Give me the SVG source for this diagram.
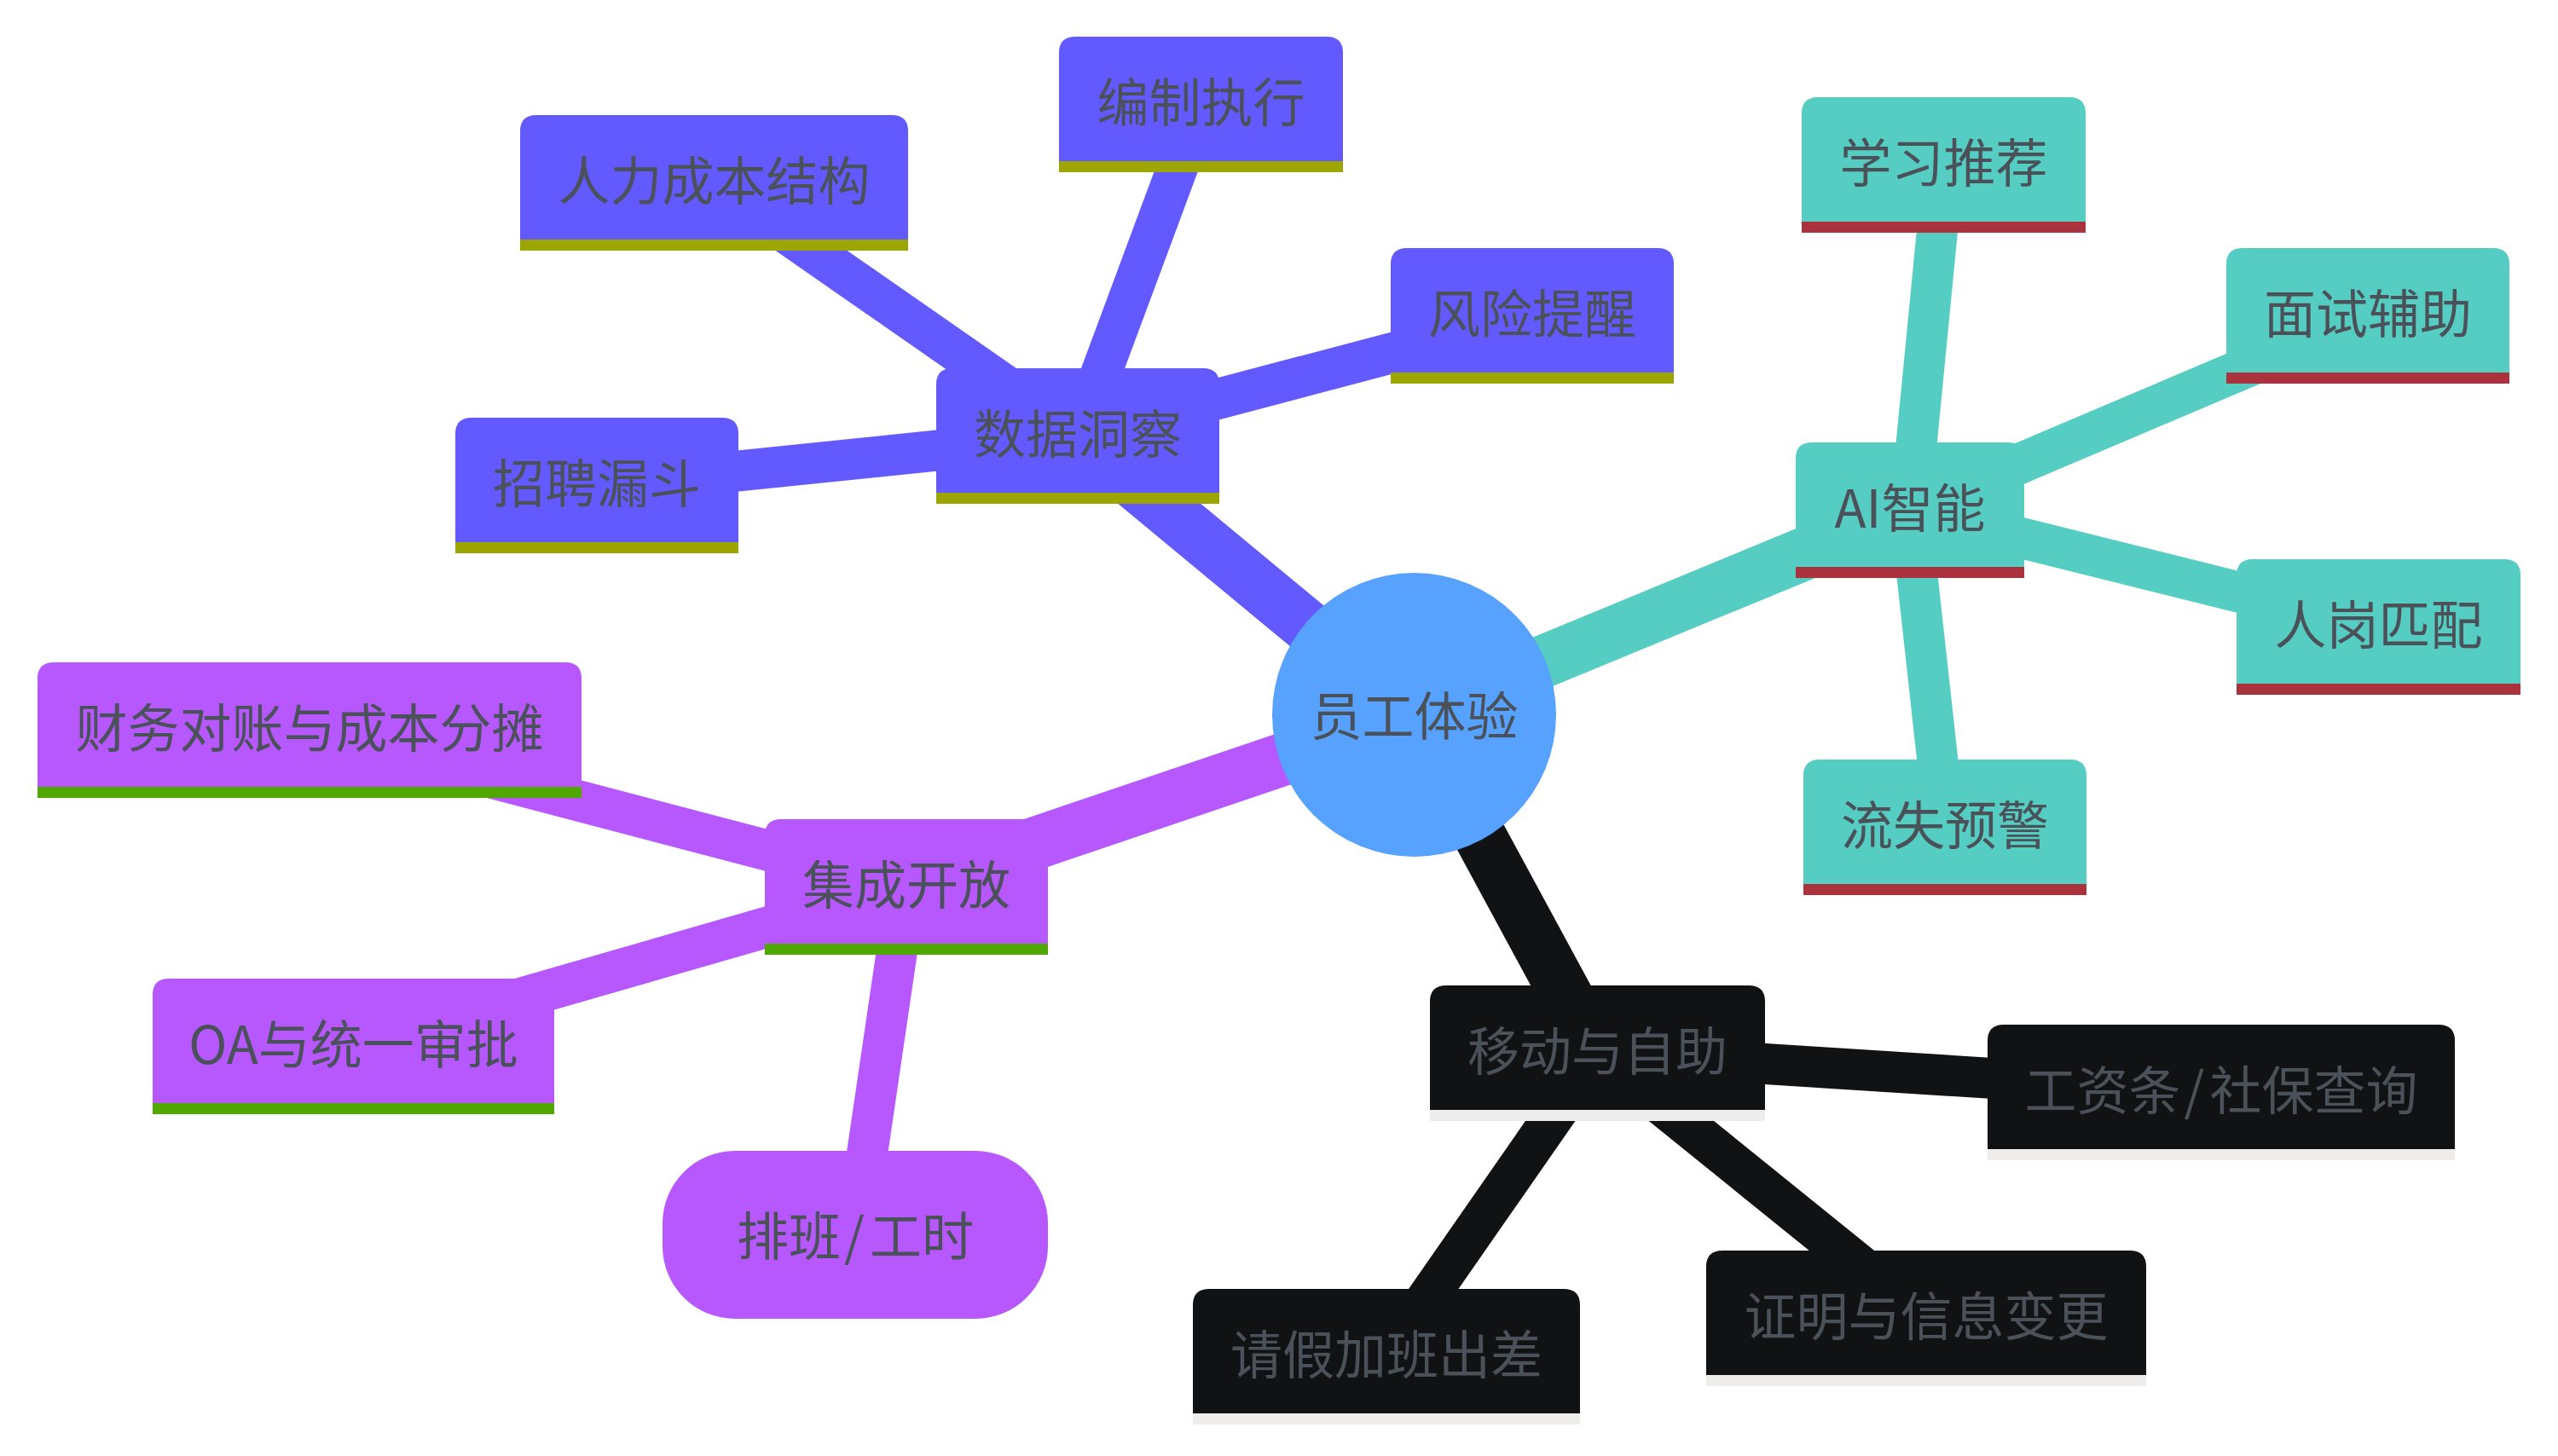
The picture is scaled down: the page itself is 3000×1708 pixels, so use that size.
<svg xmlns="http://www.w3.org/2000/svg" width="3000" height="1708" viewBox="0 0 3000 1708">
<style>
.bg{fill:#ffffff}
.e{fill:none;stroke-linecap:butt}
.d1{stroke-width:62}
.d2{stroke-width:48}
.es0{stroke:#625aff}.es1{stroke:#55cdc2}.es2{stroke:#b658fe}.es3{stroke:#111214}
.s0{fill:#625aff}.s1{fill:#55cdc2}.s2{fill:#b658fe}.s3{fill:#111214}
.l0{fill:#9da500}.l1{fill:#aa323d}.l2{fill:#4fa700}.l3{fill:#eeedeb}
.root{fill:#57a1ff}
.t{font-family:"Noto Sans CJK SC","Noto Sans",sans-serif;font-size:61px;fill:#4b5159;text-anchor:middle}
</style>
<rect class="bg" x="0" y="0" width="3000" height="1708"/>
<g id="connectors">
<line class="e d1 es0" x1="1658.5" y1="838.5" x2="1264" y2="511.5"/>
<line class="e d1 es1" x1="1658.5" y1="838.5" x2="2240" y2="598.5"/>
<line class="e d1 es2" x1="1658.5" y1="838.5" x2="1063" y2="1040.5"/>
<line class="e d1 es3" x1="1658.5" y1="838.5" x2="1873.5" y2="1235.5"/>
<line class="e d2 es0" x1="1264" y1="511.5" x2="837.5" y2="214.5"/>
<line class="e d2 es0" x1="1264" y1="511.5" x2="1408.5" y2="122.5"/>
<line class="e d2 es0" x1="1264" y1="511.5" x2="1797" y2="370.5"/>
<line class="e d2 es0" x1="1264" y1="511.5" x2="700" y2="569.5"/>
<line class="e d2 es1" x1="2240" y1="598.5" x2="2279.5" y2="193.5"/>
<line class="e d2 es1" x1="2240" y1="598.5" x2="2777" y2="370.5"/>
<line class="e d2 es1" x1="2240" y1="598.5" x2="2789.5" y2="735.5"/>
<line class="e d2 es1" x1="2240" y1="598.5" x2="2281" y2="970.5"/>
<line class="e d2 es2" x1="1063" y1="1040.5" x2="363" y2="856.5"/>
<line class="e d2 es2" x1="1063" y1="1040.5" x2="414.5" y2="1227.5"/>
<line class="e d2 es2" x1="1063" y1="1040.5" x2="1003" y2="1448.5"/>
<line class="e d2 es3" x1="1873.5" y1="1235.5" x2="2605" y2="1282"/>
<line class="e d2 es3" x1="1873.5" y1="1235.5" x2="2259" y2="1547"/>
<line class="e d2 es3" x1="1873.5" y1="1235.5" x2="1626" y2="1591.5"/>
</g>
<g id="root">
<circle class="root" cx="1658.5" cy="838.5" r="166.5"/>
<text class="t" x="1658.5" y="862.5">员工体验</text>
</g>
<g id="n-shuju">
<path class="s0" d="M1098,578 V451 Q1098,432 1117,432 H1411 Q1430,432 1430,451 V578 Z"/>
<rect class="l0" x="1098" y="578" width="332" height="13"/>
<text class="t" x="1264" y="532">数据洞察</text>
</g>
<g id="n-renli">
<path class="s0" d="M610,281 V154 Q610,135 629,135 H1046 Q1065,135 1065,154 V281 Z"/>
<rect class="l0" x="610" y="281" width="455" height="13"/>
<text class="t" x="837.5" y="235">人力成本结构</text>
</g>
<g id="n-bianzhi">
<path class="s0" d="M1242,189 V62 Q1242,43 1261,43 H1556 Q1575,43 1575,62 V189 Z"/>
<rect class="l0" x="1242" y="189" width="333" height="13"/>
<text class="t" x="1408.5" y="143">编制执行</text>
</g>
<g id="n-fengxian">
<path class="s0" d="M1631,437 V310 Q1631,291 1650,291 H1944 Q1963,291 1963,310 V437 Z"/>
<rect class="l0" x="1631" y="437" width="332" height="13"/>
<text class="t" x="1797" y="391">风险提醒</text>
</g>
<g id="n-zhaopin">
<path class="s0" d="M534,636 V509 Q534,490 553,490 H847 Q866,490 866,509 V636 Z"/>
<rect class="l0" x="534" y="636" width="332" height="13"/>
<text class="t" x="700" y="590">招聘漏斗</text>
</g>
<g id="n-ai">
<path class="s1" d="M2106,665 V538 Q2106,519 2125,519 H2355 Q2374,519 2374,538 V665 Z"/>
<rect class="l1" x="2106" y="665" width="268" height="13"/>
<text class="t" x="2240" y="619">AI智能</text>
</g>
<g id="n-xuexi">
<path class="s1" d="M2113,260 V133 Q2113,114 2132,114 H2427 Q2446,114 2446,133 V260 Z"/>
<rect class="l1" x="2113" y="260" width="333" height="13"/>
<text class="t" x="2279.5" y="214">学习推荐</text>
</g>
<g id="n-mianshi">
<path class="s1" d="M2611,437 V310 Q2611,291 2630,291 H2924 Q2943,291 2943,310 V437 Z"/>
<rect class="l1" x="2611" y="437" width="332" height="13"/>
<text class="t" x="2777" y="391">面试辅助</text>
</g>
<g id="n-rengang">
<path class="s1" d="M2623,802 V675 Q2623,656 2642,656 H2937 Q2956,656 2956,675 V802 Z"/>
<rect class="l1" x="2623" y="802" width="333" height="13"/>
<text class="t" x="2789.5" y="756">人岗匹配</text>
</g>
<g id="n-liushi">
<path class="s1" d="M2115,1037 V910 Q2115,891 2134,891 H2428 Q2447,891 2447,910 V1037 Z"/>
<rect class="l1" x="2115" y="1037" width="332" height="13"/>
<text class="t" x="2281" y="991">流失预警</text>
</g>
<g id="n-jicheng">
<path class="s2" d="M897,1107 V980 Q897,961 916,961 H1210 Q1229,961 1229,980 V1107 Z"/>
<rect class="l2" x="897" y="1107" width="332" height="13"/>
<text class="t" x="1063" y="1061">集成开放</text>
</g>
<g id="n-caiwu">
<path class="s2" d="M44,923 V796 Q44,777 63,777 H663 Q682,777 682,796 V923 Z"/>
<rect class="l2" x="44" y="923" width="638" height="13"/>
<text class="t" x="363" y="877">财务对账与成本分摊</text>
</g>
<g id="n-oa">
<path class="s2" d="M179,1294 V1167 Q179,1148 198,1148 H631 Q650,1148 650,1167 V1294 Z"/>
<rect class="l2" x="179" y="1294" width="471" height="13"/>
<text class="t" x="414.5" y="1248">OA与统一审批</text>
</g>
<g id="n-paiban">
<rect class="s2" x="777" y="1350" width="452" height="197" rx="85" ry="85"/>
<text class="t" x="1003" y="1473">排班<tspan dx="4">/</tspan><tspan dx="6">工时</tspan></text>
</g>
<g id="n-yidong">
<path class="s3" d="M1677,1302 V1175 Q1677,1156 1696,1156 H2051 Q2070,1156 2070,1175 V1302 Z"/>
<rect class="l3" x="1677" y="1302" width="393" height="13"/>
<text class="t" x="1873.5" y="1256">移动与自助</text>
</g>
<g id="n-gongzi">
<path class="s3" d="M2331,1348 V1221 Q2331,1202 2350,1202 H2860 Q2879,1202 2879,1221 V1348 Z"/>
<rect class="l3" x="2331" y="1348" width="548" height="13"/>
<text class="t" x="2605" y="1302">工资条<tspan dx="4">/</tspan><tspan dx="6">社保查询</tspan></text>
</g>
<g id="n-zhengming">
<path class="s3" d="M2001,1613 V1486 Q2001,1467 2020,1467 H2498 Q2517,1467 2517,1486 V1613 Z"/>
<rect class="l3" x="2001" y="1613" width="516" height="13"/>
<text class="t" x="2259" y="1567">证明与信息变更</text>
</g>
<g id="n-qingjia">
<path class="s3" d="M1399,1658 V1531 Q1399,1512 1418,1512 H1834 Q1853,1512 1853,1531 V1658 Z"/>
<rect class="l3" x="1399" y="1658" width="454" height="13"/>
<text class="t" x="1626" y="1612">请假加班出差</text>
</g>
</svg>
